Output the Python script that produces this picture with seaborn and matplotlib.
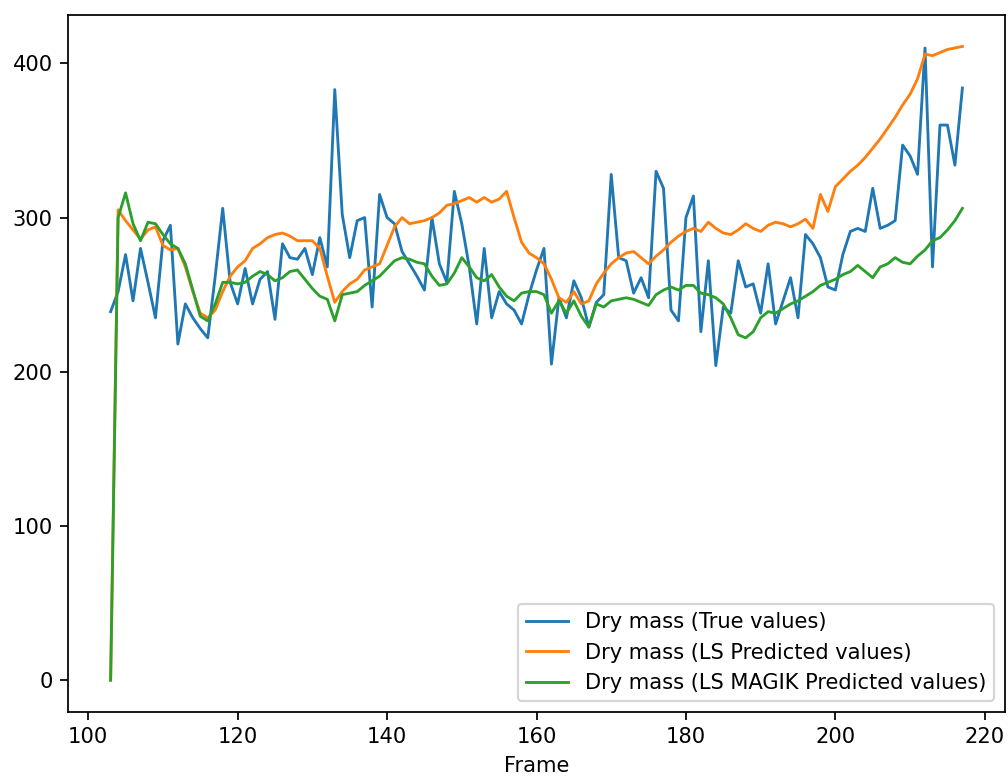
import matplotlib
matplotlib.use("Agg")
import matplotlib.pyplot as plt
import seaborn as sns
import pandas as pd

frames = list(range(103, 218))

true_values = [
    239, 252, 276, 246, 280, 258, 235, 285, 295, 218,
    244, 235, 228, 222, 262, 306, 258, 244, 267, 244,
    260, 265, 234, 283, 274, 273, 280, 263, 287, 268,
    383, 302, 274, 298, 300, 242, 315, 300, 296, 278,
    270, 262, 253, 300, 270, 258, 317, 296, 268, 231,
    280, 235, 252, 244, 240, 231, 250, 266, 280, 205,
    248, 235, 259, 248, 229, 245, 250, 328, 274, 272,
    251, 261, 248, 330, 319, 240, 233, 300, 314, 226,
    272, 204, 242, 238, 272, 255, 257, 238, 270, 231,
    246, 261, 235, 289, 283, 274, 255, 253, 276, 291,
    293, 291, 319, 293, 295, 298, 347, 340, 328, 410,
    268, 360, 360, 334, 384,
]

ls_predicted = [
    0, 305, 298, 292, 286, 292, 294, 282, 279, 280,
    268, 252, 238, 235, 240, 252, 262, 268, 272, 280,
    283, 287, 289, 290, 288, 285, 285, 285, 280, 262,
    245, 252, 257, 260, 266, 268, 270, 282, 294, 300,
    296, 297, 298, 300, 303, 308, 309, 311, 313, 310,
    313, 310, 312, 317, 300, 284, 277, 274, 270, 260,
    248, 245, 252, 244, 246, 257, 264, 270, 274, 277,
    278, 274, 270, 275, 279, 284, 288, 291, 293, 291,
    297, 293, 290, 289, 292, 296, 293, 291, 295, 297,
    296, 294, 296, 299, 293, 315, 304, 320, 325, 330,
    334, 339, 345, 351, 358, 365, 373, 380, 390, 406,
    405, 407, 409, 410, 411,
]

ls_magik_predicted = [
    0, 300, 316, 296, 285, 297, 296, 289, 283, 280,
    270, 253, 236, 233, 244, 258, 258, 257, 258, 262,
    265, 263, 259, 261, 265, 266, 260, 254, 249, 247,
    233, 250, 251, 252, 256, 259, 262, 267, 272, 274,
    273, 271, 270, 262, 256, 257, 264, 274, 268, 261,
    259, 263, 255, 249, 246, 251, 252, 252, 250, 238,
    246, 238, 246, 236, 229, 244, 242, 246, 247, 248,
    247, 245, 243, 250, 253, 255, 253, 256, 256, 251,
    250, 248, 244, 235, 224, 222, 226, 235, 239, 238,
    241, 244, 246, 249, 252, 256, 258, 260, 263, 265,
    269, 265, 261, 268, 270, 274, 271, 270, 275, 279,
    285, 287, 292, 298, 306,
]

series_labels = [
    "Dry mass (True values)",
    "Dry mass (LS Predicted values)",
    "Dry mass (LS MAGIK Predicted values)",
]

df = pd.DataFrame({
    "Frame": frames,
    series_labels[0]: true_values,
    series_labels[1]: ls_predicted,
    series_labels[2]: ls_magik_predicted,
})

palette = ["#1f77b4", "#ff7f0e", "#2ca02c"]

plt.rcParams["font.size"] = 9.6

fig, ax = plt.subplots(figsize=(6.4, 4.94), dpi=157.5)
for label, color in zip(series_labels, palette):
    sns.lineplot(data=df, x="Frame", y=label, ax=ax, color=color,
                 label=label, linewidth=1.3)

ax.set_xlabel("Frame")
ax.set_ylabel("")
ax.legend(loc="lower right")
fig.subplots_adjust(left=0.0675, right=0.997, top=0.981, bottom=0.085)
fig.savefig("out.png", dpi=157.5)
